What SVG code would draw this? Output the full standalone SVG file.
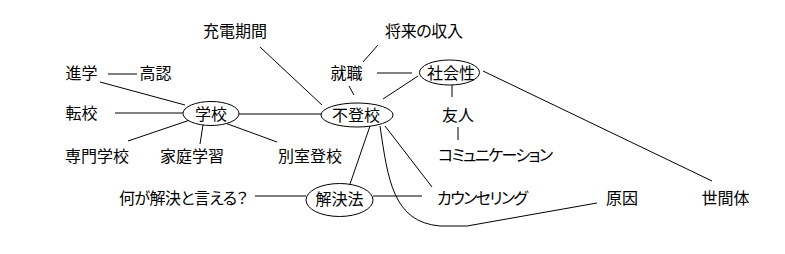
<svg xmlns="http://www.w3.org/2000/svg" width="785" height="254" viewBox="0 0 785 254">
<style>
text{font-family:"Noto Sans CJK JP","Noto Sans CJK SC",sans-serif;font-size:16px;fill:#000;text-anchor:middle;font-feature-settings:"palt"}
.ln{stroke:#000;stroke-width:1;fill:none}
.el{stroke:#000;stroke-width:1;fill:#fff}
</style>
<rect width="785" height="254" fill="#fff"/>
<g id="connectors" class="ln">
<line x1="260" y1="47" x2="322" y2="105"/>
<line x1="363" y1="62" x2="378" y2="45"/>
<line x1="349" y1="86" x2="354" y2="95"/>
<line x1="377" y1="73" x2="412" y2="73"/>
<line x1="383" y1="99" x2="418" y2="76"/>
<line x1="483" y1="71" x2="712" y2="181"/>
<line x1="452" y1="85" x2="452" y2="97"/>
<line x1="458" y1="127" x2="458" y2="140"/>
<line x1="108" y1="74" x2="137" y2="74"/>
<line x1="100" y1="82" x2="185" y2="105"/>
<line x1="115" y1="113" x2="183" y2="113"/>
<line x1="128" y1="141" x2="190" y2="120"/>
<line x1="203" y1="125" x2="200" y2="144"/>
<line x1="225" y1="123" x2="277" y2="142"/>
<line x1="239" y1="114" x2="321" y2="114"/>
<line x1="370" y1="126" x2="350" y2="184"/>
<line x1="385" y1="126" x2="432" y2="187"/>
<path d="M380,126 C388,180 393,222 440,226 L467,226 L597,203"/>
<line x1="255" y1="196" x2="306" y2="196"/>
<line x1="373" y1="196" x2="422" y2="196"/>
</g>
<g id="n-juden"><text x="235" y="37">充電期間</text></g>
<g id="n-shorai"><text x="424" y="37" textLength="78" lengthAdjust="spacing">将来の収入</text></g>
<g id="n-shingaku"><text x="81.5" y="79">進学</text></g>
<g id="n-konin"><text x="155.5" y="79">高認</text></g>
<g id="n-shushoku"><text x="346.5" y="79">就職</text></g>
<g id="n-shakaisei"><ellipse class="el" cx="449.5" cy="72.5" rx="30" ry="12.5"/><text x="451" y="79">社会性</text></g>
<g id="n-tenko"><text x="81.5" y="119">転校</text></g>
<g id="n-gakko"><ellipse class="el" cx="211" cy="113.5" rx="28" ry="12"/><text x="211" y="120">学校</text></g>
<g id="n-futoko"><ellipse class="el" cx="357" cy="115" rx="36" ry="12"/><text x="356" y="121">不登校</text></g>
<g id="n-yujin"><text x="458" y="121">友人</text></g>
<g id="n-senmon"><text x="97" y="162">専門学校</text></g>
<g id="n-katei"><text x="192" y="162">家庭学習</text></g>
<g id="n-besshitsu"><text x="310" y="162">別室登校</text></g>
<g id="n-comm"><text x="495.5" y="161" textLength="115" lengthAdjust="spacing">コミュニケーション</text></g>
<g id="n-nani"><text x="183.5" y="204" textLength="129" lengthAdjust="spacing">何が解決と言える？</text></g>
<g id="n-kaiketsu"><ellipse class="el" cx="339.5" cy="200" rx="33.5" ry="16.5"/><text x="339.5" y="205">解決法</text></g>
<g id="n-counsel"><text x="482.5" y="204" textLength="91" lengthAdjust="spacing">カウンセリング</text></g>
<g id="n-genin"><text x="622" y="204">原因</text></g>
<g id="n-seken"><text x="725.5" y="204">世間体</text></g>
</svg>
